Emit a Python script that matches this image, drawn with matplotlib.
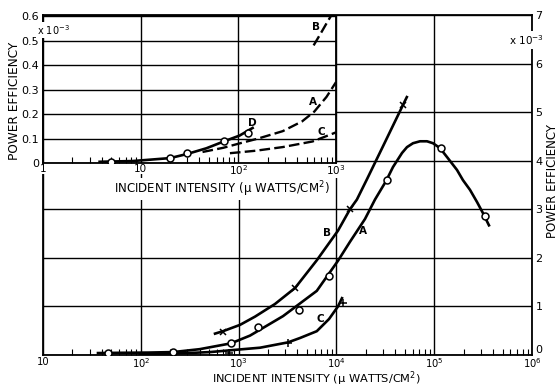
import matplotlib
matplotlib.use("Agg")
import matplotlib.pyplot as plt
from matplotlib.ticker import LogLocator, NullFormatter

plt.rcParams['font.family'] = ['DejaVu Sans']
plt.rcParams['mathtext.default'] = 'regular'

# ---------------- main chart data (efficiency in units of 1e-3) -------------
a_curve_x = [36.5, 60, 120, 213, 400, 836, 1310, 2845, 6300, 10380, 13760, 19600,
             24800, 32150, 37900, 46900, 52700, 60700, 71600, 84400, 97200, 114600,
             138300, 171000, 196800, 232300, 274000, 315500, 363000]
a_curve_y = [0.04, 0.045, 0.05, 0.06, 0.12, 0.24, 0.40, 0.80, 1.32, 1.94, 2.33, 2.80,
             3.20, 3.58, 3.87, 4.16, 4.28, 4.36, 4.40, 4.40, 4.36, 4.26,
             4.05, 3.81, 3.60, 3.40, 3.15, 2.92, 2.67]
a_pts_x = [46, 213, 836, 1578, 4150, 8400, 32900, 116000, 331000]
a_pts_y = [0.04, 0.06, 0.25, 0.58, 0.93, 1.63, 3.60, 4.26, 2.86]

b_curve_x = [574, 692, 1033, 1472, 2355, 3780, 6300, 10380, 13760, 16200, 20550, 30000,
             48000, 52500]
b_curve_y = [0.44, 0.49, 0.62, 0.79, 1.05, 1.38, 1.95, 2.56, 3.00, 3.20, 3.62, 4.30,
             5.15, 5.31]
b_pts_x = [692, 3780, 13760, 48000]
b_pts_y = [0.48, 1.38, 3.00, 5.15]

c_curve_x = [98, 300, 510, 1110, 1655, 3200, 4245, 6300, 8400, 10380, 11400]
c_curve_y = [0.02, 0.04, 0.06, 0.12, 0.15, 0.26, 0.35, 0.49, 0.74, 1.0, 1.17]
c_pts_x = [790, 3200, 11700]
c_pts_y = [0.05, 0.25, 1.07]

main_xticks = [10, 1e2, 1e3, 1e4, 1e5, 1e6]
main_xticklabels = ['10', '$10^2$', '$10^3$', '$10^4$', '$10^5$', '$10^6$']
main_yticks = [0, 1, 2, 3, 4, 5, 6, 7]
main_yticklabels = ['0', '1', '2', '3', '4', '5', '6', '7']

# ---------------- inset data (efficiency in units of 1e-3) ------------------
d_curve_x = [3.8, 8.3, 20, 30, 47, 71, 103, 140]
d_curve_y = [0.005, 0.008, 0.02, 0.037, 0.06, 0.088, 0.112, 0.143]
d_pts_x = [5, 20, 30, 71, 127]
d_pts_y = [0.005, 0.02, 0.04, 0.09, 0.122]

ai_curve_x = [43, 70, 103, 160, 285, 450, 600, 800, 1000]
ai_curve_y = [0.045, 0.062, 0.08, 0.10, 0.13, 0.17, 0.21, 0.27, 0.33]
ci_curve_x = [82, 150, 285, 577, 1000]
ci_curve_y = [0.04, 0.05, 0.065, 0.088, 0.125]
bi_curve_x = [590, 700, 800, 950]
bi_curve_y = [0.48, 0.53, 0.57, 0.62]

inset_xticks = [1, 10, 1e2, 1e3]
inset_xticklabels = ['1', '10', '$10^2$', '$10^3$']
inset_yticks = [0, 0.1, 0.2, 0.3, 0.4, 0.5, 0.6]
inset_yticklabels = ['0', '0.1', '0.2', '0.3', '0.4', '0.5', '0.6']

W, H = 557, 388
fig = plt.figure(figsize=(W / 100, H / 100), dpi=100)

# ---------------- main axes -------------------------------------------------
ax = fig.add_axes([43 / W, 1 - 355 / H, 489 / W, 340 / H])
ax.set_xscale('log')
ax.set_xlim(10, 1e6)
ax.set_ylim(0, 7)
ax.set_xticks(main_xticks)
ax.set_xticklabels(main_xticklabels, fontsize=7.2)
ax.xaxis.set_minor_locator(LogLocator(base=10, subs=range(2, 10), numticks=20))
ax.xaxis.set_minor_formatter(NullFormatter())
ax.yaxis.tick_right()
ax.set_yticks(main_yticks)
ax.set_yticklabels(main_yticklabels, fontsize=8)
ax.get_yticklabels()[0].set_verticalalignment('bottom')
ax.tick_params(axis='y', which='major', length=0, pad=2.5)
ax.tick_params(axis='x', which='major', length=0, pad=1.2)
ax.tick_params(axis='x', which='minor', direction='in', length=4, width=0.8, top=False)
ax.grid(which='major', color='black', lw=1.0)
for s in ax.spines.values():
    s.set_linewidth(1.3)

lw = 1.9
ax.plot(a_curve_x, a_curve_y, color='black', lw=lw, zorder=3, solid_joinstyle='round')
ax.plot(b_curve_x, b_curve_y, color='black', lw=lw, zorder=3, solid_joinstyle='round')
ax.plot(c_curve_x, c_curve_y, color='black', lw=lw, zorder=3, solid_joinstyle='round')
ax.plot(a_pts_x, a_pts_y, 'o', ms=5, mfc='white', mec='black', mew=1.1, zorder=4)
ax.plot(b_pts_x, b_pts_y, 'x', ms=5, color='black', mew=1.1, zorder=4)
ax.plot(c_pts_x, c_pts_y, '+', ms=6, color='black', mew=1.1, zorder=4)
ax.text(8010, 2.51, 'B', fontsize=7.5, fontweight='bold', ha='center', va='center')
ax.text(18700, 2.55, 'A', fontsize=7.5, fontweight='bold', ha='center', va='center')
ax.text(6790, 0.74, 'C', fontsize=7.5, fontweight='bold', ha='center', va='center')

ax.text((526 - 43) / 489, 6.48, 'x $10^{-3}$', transform=ax.get_yaxis_transform(),
        fontsize=7.5, ha='center', va='center',
        bbox=dict(facecolor='white', edgecolor='none', pad=1.5), zorder=6, clip_on=False)

# ---------------- inset axes ------------------------------------------------
ins = fig.add_axes([43 / W, 1 - 163 / H, 293 / W, 147 / H])
ins.set_zorder(2)
ins.set_facecolor('white')
ins.set_xscale('log')
ins.set_xlim(1, 1e3)
ins.set_ylim(0, 0.6)
ins.set_xticks(inset_xticks)
ins.set_xticklabels(inset_xticklabels, fontsize=7.5)
ins.xaxis.set_minor_locator(LogLocator(base=10, subs=range(2, 10), numticks=20))
ins.xaxis.set_minor_formatter(NullFormatter())
ins.set_yticks(inset_yticks)
ins.set_yticklabels(inset_yticklabels, fontsize=8)
ins.tick_params(axis='y', which='major', length=0, pad=3)
ins.tick_params(axis='x', which='major', length=0, pad=0.5)
ins.tick_params(axis='x', which='minor', direction='in', length=4, width=0.8)
for lab in ins.get_xticklabels():
    lab.set_bbox(dict(facecolor='white', edgecolor='none', pad=0.3))
ins.grid(which='major', color='black', lw=1.0)
for s in ins.spines.values():
    s.set_linewidth(1.3)

ins.plot(d_curve_x, d_curve_y, color='black', lw=lw, zorder=3, solid_joinstyle='round')
ins.plot(d_pts_x, d_pts_y, 'o', ms=5, mfc='white', mec='black', mew=1.1, zorder=4)
dash = (4.5, 1.8)
ins.plot(ai_curve_x, ai_curve_y, color='black', lw=1.7, dashes=dash, zorder=3)
ins.plot(ci_curve_x, ci_curve_y, color='black', lw=1.7, dashes=dash, zorder=3)
ins.plot(bi_curve_x, bi_curve_y, color='black', lw=1.7, dashes=dash, zorder=3)
ins.text(140, 0.163, 'D', fontsize=7.5, fontweight='bold', ha='center', va='center')
ins.text(577, 0.25, 'A', fontsize=7.5, fontweight='bold', ha='center', va='center')
ins.text(713, 0.127, 'C', fontsize=7.5, fontweight='bold', ha='center', va='center')
ins.text(620, 0.555, 'B', fontsize=7.5, fontweight='bold', ha='center', va='center')
ins.text(-0.02, 0.543, 'x $10^{-3}$', transform=ins.get_yaxis_transform(), fontsize=7,
         ha='left', va='center',
         bbox=dict(facecolor='white', edgecolor='none', pad=1), zorder=6, clip_on=False)

# ---------------- labels ----------------------------------------------------
fig.text(316 / W, 1 - 378.5 / H, 'INCIDENT INTENSITY (\u03bc WATTS/CM$^2$)', fontsize=8.2,
         ha='center', va='center')
fig.text(222 / W, 1 - 189 / H, 'INCIDENT INTENSITY (\u03bc WATTS/CM$^2$)', fontsize=8.5,
         ha='center', va='center',
         bbox=dict(facecolor='white', edgecolor='none', pad=0.5))
fig.text(15 / W, 1 - 101 / H, 'POWER EFFICIENCY', fontsize=8.7, rotation=90,
         ha='center', va='center')
fig.text(552 / W, 1 - 181 / H, 'POWER EFFICIENCY', fontsize=8.5, rotation=90,
         ha='center', va='center')

fig.savefig('out.png', dpi=100)
